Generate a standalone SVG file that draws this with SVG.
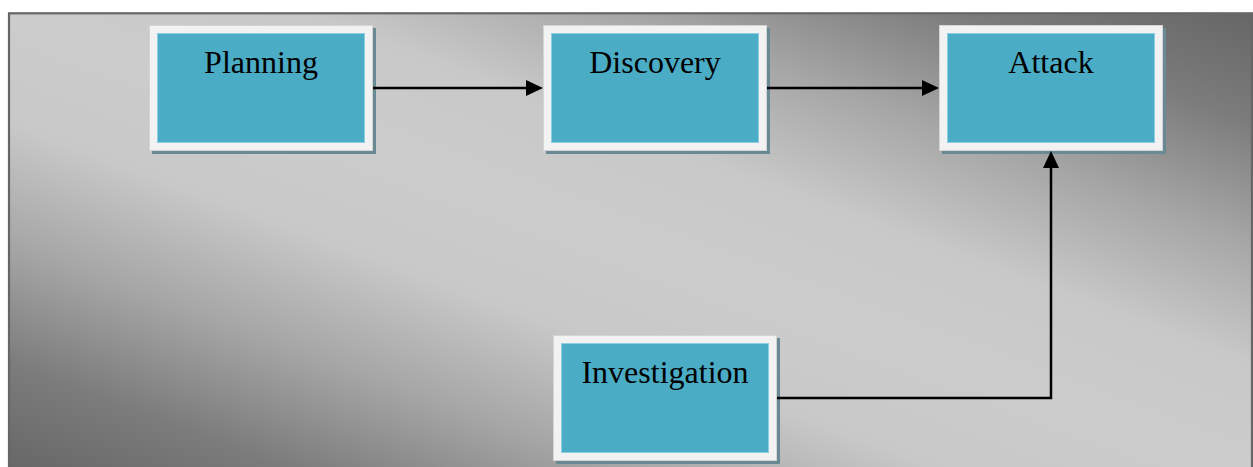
<svg xmlns="http://www.w3.org/2000/svg" width="1253" height="467" viewBox="0 0 1253 467">
  <defs>
    <linearGradient id="bg" x1="0" y1="1" x2="1" y2="0">
      <stop offset="0" stop-color="#666666"/>
      <stop offset="0.12" stop-color="#7c7c7c"/>
      <stop offset="0.25" stop-color="#a6a6a6"/>
      <stop offset="0.38" stop-color="#c8c8c8"/>
      <stop offset="0.5" stop-color="#cccccc"/>
      <stop offset="0.62" stop-color="#c8c8c8"/>
      <stop offset="0.75" stop-color="#a6a6a6"/>
      <stop offset="0.88" stop-color="#7c7c7c"/>
      <stop offset="1" stop-color="#666666"/>
    </linearGradient>
    <marker id="arrow" markerUnits="userSpaceOnUse" markerWidth="17" markerHeight="16" refX="2" refY="8" orient="auto">
      <path d="M0,0 L17,8 L0,16 z" fill="#000"/>
    </marker>
  </defs>
  <style>
    .shadow { fill: #698a94; }
    .outer { fill: #f2f2f2; stroke: #d4d4d4; stroke-width: 1; }
    .inner { fill: #4bacc6; stroke: #8ccfe0; stroke-width: 1; }
    .label { font-family: "Liberation Serif", "Times New Roman", serif; font-size: 32px; fill: #000; text-anchor: middle; }
    .conn { fill: none; stroke: #000; stroke-width: 2.5; marker-end: url(#arrow); }
  </style>
  <rect x="0" y="0" width="1253" height="467" fill="#ffffff"/>
  <rect id="frame" x="9" y="13.3" width="1243" height="460" fill="url(#bg)" stroke="#666666" stroke-width="2.2"/>

  <g id="planning">
    <rect class="shadow" x="152" y="28" width="224" height="126"/>
    <rect class="outer" x="149.5" y="25.5" width="223" height="125"/>
    <rect class="inner" x="157.5" y="33.5" width="207" height="109"/>
    <text class="label" x="261" y="73">Planning</text>
  </g>
  <g id="discovery">
    <rect class="shadow" x="546" y="28" width="224" height="126"/>
    <rect class="outer" x="543.5" y="25.5" width="223" height="125"/>
    <rect class="inner" x="551.5" y="33.5" width="207" height="109"/>
    <text class="label" x="655" y="73">Discovery</text>
  </g>
  <g id="attack">
    <rect class="shadow" x="942" y="28" width="224" height="126"/>
    <rect class="outer" x="939.5" y="25.5" width="223" height="125"/>
    <rect class="inner" x="947.5" y="33.5" width="207" height="109"/>
    <text class="label" x="1051" y="73">Attack</text>
  </g>
  <g id="investigation">
    <rect class="shadow" x="556" y="338" width="224" height="126"/>
    <rect class="outer" x="553.5" y="335.5" width="223" height="125"/>
    <rect class="inner" x="561.5" y="343.5" width="207" height="109"/>
    <text class="label" x="665" y="383">Investigation</text>
  </g>

  <g id="connectors">
    <path class="conn" d="M373,88 H528"/>
    <path class="conn" d="M767,88 H924"/>
    <path class="conn" d="M777,398 H1051 V166"/>
  </g>
</svg>
